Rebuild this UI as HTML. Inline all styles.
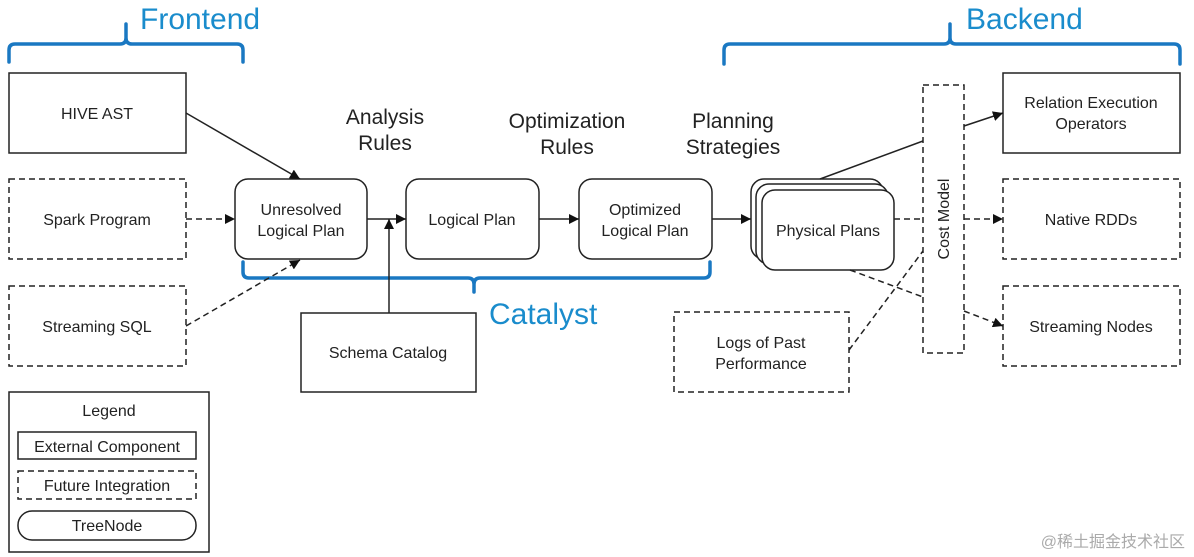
<!DOCTYPE html>
<html><head><meta charset="utf-8"><style>
html,body{margin:0;padding:0;background:#fff;width:1194px;height:557px;overflow:hidden}
svg text{font-family:"Liberation Sans","Noto Sans CJK SC",sans-serif;fill:#222}
</style></head><body>
<svg width="1194" height="557" viewBox="0 0 1194 557" xmlns="http://www.w3.org/2000/svg">
<defs>
<marker id="a" viewBox="0 0 10 10" refX="10" refY="5" markerWidth="10" markerHeight="10" markerUnits="userSpaceOnUse" orient="auto"><path d="M0,0L10,5L0,10z" fill="#111"/></marker>
</defs>
<g fill="none" stroke="#1a78c2" stroke-width="3.5" stroke-linejoin="round" stroke-linecap="round">
<path d="M9,62 V50 Q9,44 15,44 H120 Q126,44 126,38 V24 M126,38 Q126,44 132,44 H237 Q243,44 243,50 V62"/>
<path d="M724,64 V50 Q724,44 730,44 H944 Q950,44 950,38 V24 M950,38 Q950,44 956,44 H1174 Q1180,44 1180,50 V64"/>
<path d="M243,262 V272 Q243,278 249,278 H468 Q474,278 474,284 V292 M474,284 Q474,278 480,278 H704 Q710,278 710,272 V262"/>
</g>
<g font-size="30" style="font-size:30px">
<text x="140" y="29" style="fill:#1a8ccc">Frontend</text>
<text x="966" y="29" style="fill:#1a8ccc">Backend</text>
<text x="489" y="324" style="fill:#1a8ccc">Catalyst</text>
</g>
<g fill="#fff" stroke="#222" stroke-width="1.5">
<rect x="9" y="73" width="177" height="80"/>
<rect x="9" y="179" width="177" height="80" stroke-dasharray="6,4"/>
<rect x="9" y="286" width="177" height="80" stroke-dasharray="6,4"/>
<rect x="9" y="392" width="200" height="160"/>
<rect x="18" y="432" width="178" height="27"/>
<rect x="18" y="471" width="178" height="28" stroke-dasharray="6,4"/>
<rect x="18" y="511" width="178" height="29" rx="14"/>
<rect x="235" y="179" width="132" height="80" rx="13"/>
<rect x="406" y="179" width="133" height="80" rx="13"/>
<rect x="579" y="179" width="133" height="80" rx="13"/>
<rect x="751" y="179" width="132" height="80" rx="13"/>
<rect x="756" y="184" width="132" height="80" rx="13"/>
<rect x="762" y="190" width="132" height="80" rx="13"/>
<rect x="923" y="85" width="41" height="268" stroke-dasharray="6,4"/>
<rect x="1003" y="73" width="177" height="80"/>
<rect x="1003" y="179" width="177" height="80" stroke-dasharray="6,4"/>
<rect x="1003" y="286" width="177" height="80" stroke-dasharray="6,4"/>
<rect x="674" y="312" width="175" height="80" stroke-dasharray="6,4"/>
<rect x="301" y="313" width="175" height="79"/>
</g>
<g stroke="#222" stroke-width="1.5" fill="none">
<line x1="186" y1="113" x2="300" y2="179" marker-end="url(#a)"/>
<line x1="186" y1="219" x2="235" y2="219" stroke-dasharray="6,4" marker-end="url(#a)"/>
<line x1="186" y1="326" x2="300" y2="260" stroke-dasharray="6,4" marker-end="url(#a)"/>
<line x1="367" y1="219" x2="406" y2="219" marker-end="url(#a)"/>
<line x1="389" y1="313" x2="389" y2="219" marker-end="url(#a)"/>
<line x1="539" y1="219" x2="579" y2="219" marker-end="url(#a)"/>
<line x1="712" y1="219" x2="751" y2="219" marker-end="url(#a)"/>
<line x1="820" y1="179" x2="923" y2="141"/>
<line x1="964" y1="126" x2="1003" y2="113" marker-end="url(#a)"/>
<line x1="894" y1="219" x2="923" y2="219" stroke-dasharray="6,4"/>
<line x1="964" y1="219" x2="1003" y2="219" stroke-dasharray="6,4" marker-end="url(#a)"/>
<line x1="850" y1="270" x2="923" y2="297" stroke-dasharray="6,4"/>
<line x1="964" y1="311" x2="1003" y2="326" stroke-dasharray="6,4" marker-end="url(#a)"/>
<line x1="849" y1="350" x2="923" y2="251" stroke-dasharray="6,4"/>
</g>
<g font-size="16" text-anchor="middle" style="font-size:16px">
<text x="97" y="119">HIVE AST</text>
<text x="97" y="225">Spark Program</text>
<text x="97" y="332">Streaming SQL</text>
<text x="109" y="416">Legend</text>
<text x="107" y="452">External Component</text>
<text x="107" y="491">Future Integration</text>
<text x="107" y="531">TreeNode</text>
<text x="301" y="215">Unresolved</text>
<text x="301" y="236">Logical Plan</text>
<text x="472" y="225">Logical Plan</text>
<text x="645" y="215">Optimized</text>
<text x="645" y="236">Logical Plan</text>
<text x="828" y="236">Physical Plans</text>
<text x="1091" y="108">Relation Execution</text>
<text x="1091" y="129">Operators</text>
<text x="1091" y="225">Native RDDs</text>
<text x="1091" y="332">Streaming Nodes</text>
<text x="761" y="348">Logs of Past</text>
<text x="761" y="369">Performance</text>
<text x="388" y="358">Schema Catalog</text>
<text transform="translate(949,219) rotate(-90)">Cost Model</text>
</g>
<g font-size="21" text-anchor="middle" style="font-size:21px">
<text x="385" y="124">Analysis</text>
<text x="385" y="150">Rules</text>
<text x="567" y="128">Optimization</text>
<text x="567" y="154">Rules</text>
<text x="733" y="128">Planning</text>
<text x="733" y="154">Strategies</text>
</g>
<text x="1185" y="547" text-anchor="end" style="font-size:16px;fill:#aaa">@稀土掘金技术社区</text>
</svg>
</body></html>
